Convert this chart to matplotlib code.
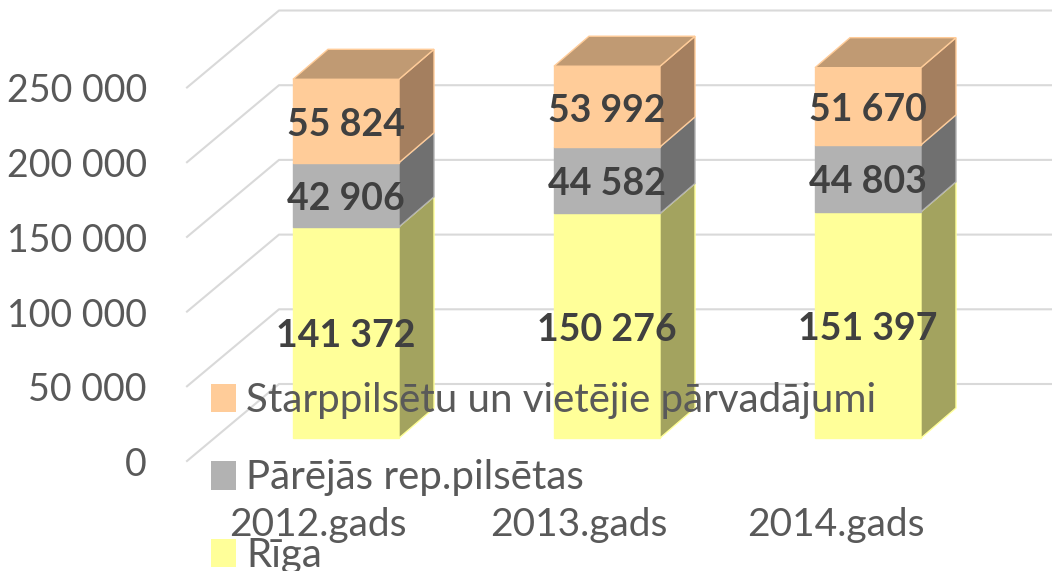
# -*- coding: utf-8 -*-
import matplotlib
matplotlib.use("Agg")
import matplotlib.pyplot as plt
from matplotlib.patches import Polygon, Patch

years = ["2012.gads", "2013.gads", "2014.gads"]
riga = [141372, 150276, 151397]
other_cities = [42906, 44582, 44803]
intercity = [55824, 53992, 51670]
y_ticks = [0, 50000, 100000, 150000, 200000, 250000]

names = ["Rīga", "Pārējās rep.pilsētas", "Starppilsētu un vietējie pārvadājumi"]
front_cols = ["#FFFF99", "#B2B2B2", "#FFCC99"]
side_cols = ["#A3A35F", "#707070", "#A47F5F"]
top_cols = ["#C4C473", "#8A8A8A", "#C09A73"]

plt.rcParams['font.family'] = ['Lato', 'DejaVu Sans']

# px per unit of the front plane
px_x = 261.0
px_y = 1.494 / 1000
bar_w = 106 / px_x
dep_x = 35 / px_x
dep_y = 30 / px_y
year_shift = [-28, -28, -32]

def fmt(v):
    return f"{v:,}".replace(",", " ")

fig = plt.figure(figsize=(10.52, 5.71), dpi=100)
ax = fig.add_axes([0, 0, 1, 1])
ax.set_xlim(-346 / px_x, (1052 - 346) / px_x)
ax.set_ylim(-(571 - 438) / px_y, 438 / px_y)
ax.axis("off")

# walls and floor lines
floor_front = -23 / px_y
floor_back = 54 / px_y
wall_front = -159 / px_x
wall_back = -67 / px_x
txt_drop = 4 / px_y
for v in y_ticks:
    ax.plot([wall_front, wall_back, 3],
            [v + floor_front, v + floor_back, v + floor_back],
            color="#D9D9D9", lw=1.5, zorder=1)
    ax.text(wall_front - 40 / px_x, v + floor_front - txt_drop, fmt(v), ha="right", va="center",
            fontsize=27, color="#595959", zorder=2)

for i in range(len(years)):
    x0 = i - bar_w / 2
    x1 = i + bar_w / 2
    bottom = 0
    for vals, fc, sc, tc in zip([riga, other_cities, intercity], front_cols, side_cols, top_cols):
        v = vals[i]
        top = bottom + v
        ax.add_patch(Polygon([(x0, bottom), (x1, bottom), (x1, top), (x0, top)],
                             facecolor=fc, edgecolor=fc, lw=1, zorder=3))
        ax.add_patch(Polygon([(x1, bottom), (x1 + dep_x, bottom + dep_y),
                              (x1 + dep_x, top + dep_y), (x1, top)],
                             facecolor=sc, edgecolor=fc, lw=1, zorder=3))
        ax.text(i, bottom + v / 2 - txt_drop, fmt(v), ha="center", va="center", fontsize=27,
                fontweight="bold", color="#404040", zorder=5)
        bottom = top
    # lid of the stack
    ax.add_patch(Polygon([(x0, bottom), (x1, bottom), (x1 + dep_x, bottom + dep_y),
                          (x0 + dep_x, bottom + dep_y)],
                         facecolor=tc, edgecolor=fc, lw=1, zorder=3))
    ax.text(i + year_shift[i] / px_x, -87 / px_y, years[i], ha="center", va="center",
            fontsize=28, color="#595959", zorder=4)

handles = [Patch(facecolor=c, edgecolor="none") for c in front_cols[::-1]]
leg = ax.legend(handles, names[::-1], loc="upper left", frameon=False,
                bbox_to_anchor=(211 / 1052, 1 - 382 / 571), borderaxespad=0, borderpad=0,
                prop={"size": 29}, labelcolor="#595959", labelspacing=1.005,
                handlelength=0.62, handleheight=0.72, handletextpad=0.25)
leg.set_zorder(6)

fig.savefig("out.png", dpi=100)
